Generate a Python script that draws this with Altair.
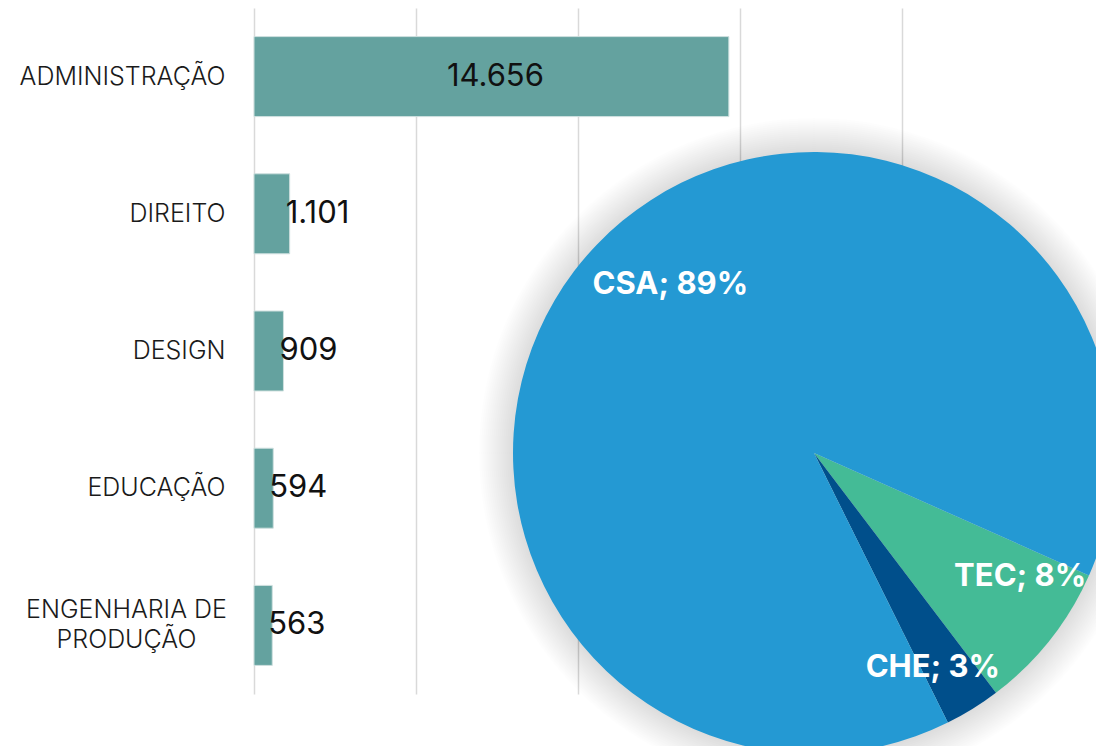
import altair as alt
import pandas as pd
import math

# ---- bar chart data ----
cursos = ["ADMINISTRAÇÃO", "DIREITO", "DESIGN", "EDUCAÇÃO", "ENGENHARIA DE PRODUÇÃO"]
alunos = [14656, 1101, 909, 594, 563]

# ---- pie data (clockwise drawing order) ----
areas = ["TEC", "CHE", "CSA"]
percentuais = [8, 3, 89]
cores_areas = ["#44BB96", "#004F8B", "#2499D3"]

bars_df = pd.DataFrame({"curso": cursos, "alunos": alunos})
pie_df = pd.DataFrame({"area": areas, "pct": percentuais, "ord": list(range(len(areas)))})
shadow_df = pd.DataFrame({"r": [301 + 2 * k for k in range(1, 18)]})

W, H = 842, 686
CX, CY, R = 560, 445, 301
start = math.radians(114)
theta_scale = alt.Scale(domain=[0, 100], range=[start, start + 2 * math.pi])

multi = "ENGENHARIA DE PRODUÇÃO"
cond = f"datum.value == '{multi}'"

base = alt.Chart(bars_df)

bars = base.mark_bar(color="#64A29F", stroke="#cfe0df", strokeWidth=1).encode(
    x=alt.X("alunos:Q", scale=alt.Scale(domain=[0, 25988], nice=False),
            axis=alt.Axis(title=None, values=[0, 5000, 10000, 15000, 20000], labels=False,
                          ticks=False, domain=False, grid=True, gridColor="#d9d9d9", gridWidth=1.5)),
    y=alt.Y("curso:N", sort=cursos, scale=alt.Scale(paddingInner=0.417, paddingOuter=0.2085),
            axis=alt.Axis(title=None, domain=False, ticks=False, grid=False,
                          labelFont="Inter", labelFontSize=25, labelFontWeight=300, labelColor="#1a1a1a",
                          labelLimit=400, labelLineHeight=30,
                          labelExpr=f"{cond} ? ['ENGENHARIA DE', 'PRODUÇÃO'] : datum.label",
                          labelAlign={"condition": {"test": cond, "value": "center"}, "value": "right"},
                          labelOffset={"condition": {"test": cond, "value": -15}, "value": 0},
                          labelPadding={"condition": {"test": cond, "value": 128}, "value": 29})),
)

lbl = base.transform_calculate(
    txt="replace(format(datum.alunos, ','), ',', '.')",
    half="datum.alunos / 2",
)

big_lbl = lbl.transform_filter("datum.alunos > 5000").mark_text(
    font="Inter", fontSize=31, color="#111111", align="center", baseline="middle", dx=4
).encode(x="half:Q", y=alt.Y("curso:N", sort=cursos), text="txt:N")

small_lbl = lbl.transform_filter("datum.alunos <= 5000").mark_text(
    font="Inter", fontSize=31, color="#111111", align="left", baseline="middle", dx=-4
).encode(x="alunos:Q", y=alt.Y("curso:N", sort=cursos), text="txt:N")

# soft shadow behind the pie: stacked translucent discs
shadow = alt.Chart(shadow_df).transform_calculate(s="4 * datum.r * datum.r").mark_circle(
    color="black", opacity=0.009, strokeWidth=0
).encode(
    x=alt.value(CX), y=alt.value(CY), size=alt.Size("s:Q", scale=None, legend=None)
)

pie_base = alt.Chart(pie_df).transform_window(
    cum="sum(pct)", sort=[alt.SortField("ord")], frame=[None, 0]
).transform_calculate(
    ini="datum.cum - datum.pct",
    mid="datum.cum - datum.pct / 2",
    rot="datum.area + '; ' + datum.pct + '%'",
)

pie = pie_base.mark_arc(radius=R).encode(
    x=alt.value(CX), y=alt.value(CY),
    theta=alt.Theta("ini:Q", scale=theta_scale),
    theta2="cum:Q",
    color=alt.Color("area:N", scale=alt.Scale(domain=areas, range=cores_areas), legend=None),
)

offsets = {"CSA": (26, -5), "TEC": (22, -22), "CHE": (-5, 15)}
pie_labels = [
    pie_base.transform_filter(f"datum.area == '{a}'").mark_text(
        radius=235, font="Inter", fontSize=31, fontWeight="bold", color="white",
        align="center", baseline="middle", dx=dx, dy=dy
    ).encode(x=alt.value(CX), y=alt.value(CY), theta=alt.Theta("mid:Q", scale=theta_scale), text="rot:N")
    for a, (dx, dy) in offsets.items()
]

chart = alt.layer(bars, big_lbl, small_lbl, shadow, pie, *pie_labels).properties(
    width=W, height=H,
    padding={"left": 246, "top": 0, "right": 0, "bottom": 52},
    autosize="none",
    background="white",
).configure_view(stroke=None)

chart.save("out.html", embed_options={"renderer": "svg", "actions": False})
